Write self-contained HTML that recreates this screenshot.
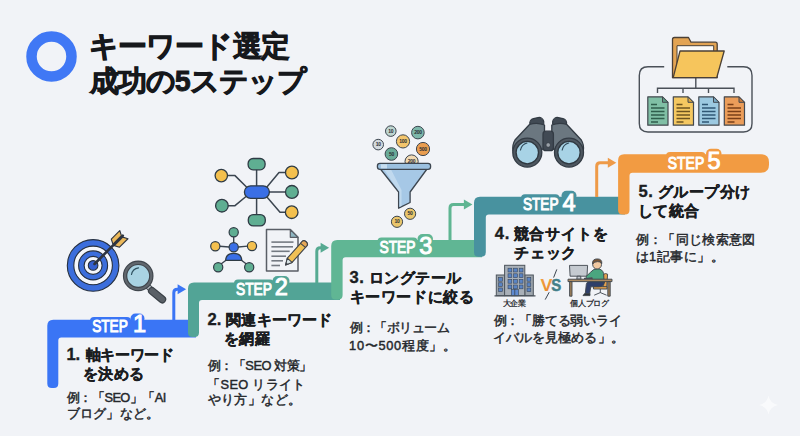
<!DOCTYPE html>
<html lang="ja">
<head>
<meta charset="utf-8">
<style>
html,body{margin:0;padding:0;}
body{width:800px;height:436px;overflow:hidden;background:#f1f3f7;font-family:"Liberation Sans",sans-serif;position:relative;}
svg.g{position:absolute;left:0;top:0;}
.t{position:absolute;white-space:nowrap;color:#1b1d21;}
.title{font-size:28.6px;letter-spacing:-0.7px;font-weight:bold;color:#16181c;-webkit-text-stroke:0.9px #16181c;}
.h{font-size:15.4px;font-weight:bold;-webkit-text-stroke:0.35px #1b1d21;}
.e{font-size:12.8px;line-height:17.5px;color:#24272b;-webkit-text-stroke:0.45px #24272b;}
.n{display:inline-block;width:19px;font-size:16.6px;line-height:10px;}
.lab{font-size:8px;font-weight:bold;color:#2b2e33;}
</style>
</head>
<body>
<svg class="g" width="800" height="436" viewBox="0 0 800 436">
  <!-- title ring -->
  <circle cx="51.5" cy="56.5" r="20" fill="none" stroke="#4078f5" stroke-width="10.5"/>

  <!-- STEP BARS -->
  <!-- step 1 -->
  <g fill="#3a75f5">
    <path d="M53.3,319.8 H196 V337.5 H61.3 Q58.3,337.5 58.3,340.5 V383.5 Q58.3,388 53.8,388 H51.8 Q47.3,388 47.3,383.5 V325.8 Q47.3,319.8 53.3,319.8 Z"/>
    <rect x="90" y="317" width="41" height="8" rx="4"/>
    <rect x="130.5" y="313.5" width="14" height="10" rx="5"/>
  </g>
  <!-- step 2 -->
  <g fill="#52a496">
    <path d="M194,282.6 H340 V300 H202 Q199,300 199,303 V332.5 Q199,337 194.5,337 H192.5 Q188,337 188,332.5 V288.6 Q188,282.6 194,282.6 Z"/>
    <rect x="234" y="279.5" width="40" height="8" rx="4"/>
    <rect x="272.5" y="276" width="17" height="10" rx="5"/>
  </g>
  <!-- step 3 -->
  <g fill="#60b694">
    <path d="M337.2,240 H482 V257.2 H345.6 Q342.6,257.2 342.6,260.2 V295 Q342.6,299.5 338.1,299.5 H335.7 Q331.2,299.5 331.2,295 V246 Q331.2,240 337.2,240 Z"/>
    <rect x="377.5" y="237.5" width="40" height="8" rx="4"/>
    <rect x="417.5" y="234" width="15.5" height="10" rx="5"/>
  </g>
  <!-- step 4 -->
  <g fill="#48929f">
    <path d="M480,196.8 H625 V214.5 H488.8 Q485.8,214.5 485.8,217.5 V252.2 Q485.8,256.7 481.3,256.7 H478.5 Q474,256.7 474,252.2 V202.8 Q474,196.8 480,196.8 Z"/>
    <rect x="521" y="194.2" width="38.5" height="8" rx="4"/>
    <rect x="561.5" y="190.8" width="15" height="10" rx="5"/>
  </g>
  <!-- step 5 -->
  <g fill="#f29b42">
    <path d="M624.1,154.2 H761 Q769,154.2 769,162.2 V164.7 Q769,172.7 761,172.7 H632.5 Q629.5,172.7 629.5,175.7 V210.1 Q629.5,214.6 625,214.6 H622.6 Q618.1,214.6 618.1,210.1 V160.2 Q618.1,154.2 624.1,154.2 Z"/>
    <rect x="666" y="152" width="39.5" height="8" rx="4"/>
    <rect x="706" y="148.7" width="15.5" height="10" rx="5"/>
  </g>

  <!-- arrows -->
  <path d="M173.8,320 V292.8 Q173.8,289.3 177.3,289.3 H179.1" fill="none" stroke="#3a75f5" stroke-width="3"/>
  <path d="M177.6,284.3 L186.1,289.3 L177.6,294.3 Z" fill="#3a75f5"/>
  <path d="M316.8,283 V251.2 Q316.8,247.7 320.3,247.7 H322.1" fill="none" stroke="#56aa92" stroke-width="3"/>
  <path d="M320.6,242.7 L329.1,247.7 L320.6,252.7 Z" fill="#56aa92"/>
  <path d="M450.0,240 V207.9 Q450.0,204.4 453.5,204.4 H465.4" fill="none" stroke="#5fb592" stroke-width="3"/>
  <path d="M463.9,199.4 L472.4,204.4 L463.9,209.4 Z" fill="#5fb592"/>
  <path d="M596.7,197 V166.2 Q596.7,162.7 600.2,162.7 H609.3" fill="none" stroke="#ee9a48" stroke-width="3"/>
  <path d="M607.8,157.7 L616.3,162.7 L607.8,167.7 Z" fill="#ee9a48"/>

  <!-- STEP labels -->
  <g fill="#ffffff" stroke="#ffffff" stroke-width="1" font-family="Liberation Sans" font-weight="normal">
    <text x="92.2" y="332.4" font-size="16.7" textLength="35.6" lengthAdjust="spacingAndGlyphs">STEP</text>
    <text x="133" y="332.4" font-size="23.5">1</text>
    <text x="236" y="295.2" font-size="16.7" textLength="36" lengthAdjust="spacingAndGlyphs">STEP</text>
    <text x="274.8" y="295.2" font-size="23.5">2</text>
    <text x="379.5" y="253.1" font-size="16.7" textLength="36" lengthAdjust="spacingAndGlyphs">STEP</text>
    <text x="419.3" y="254" font-size="23.5">3</text>
    <text x="523" y="210.2" font-size="16.7" textLength="35.5" lengthAdjust="spacingAndGlyphs">STEP</text>
    <text x="562.6" y="210.5" font-size="23.5">4</text>
    <text x="667.8" y="168.6" font-size="16.7" textLength="36.4" lengthAdjust="spacingAndGlyphs">STEP</text>
    <text x="707.5" y="168.6" font-size="23.5">5</text>
  </g>

  <!-- ICON 1: target -->
  <g stroke="#263040" stroke-width="1.1">
    <circle cx="93.1" cy="265.4" r="25.8" fill="#3c6edc"/>
    <circle cx="93.1" cy="265.4" r="19.3" fill="#f5f7fb"/>
    <circle cx="93.1" cy="265.4" r="14.5" fill="#3c6edc"/>
    <circle cx="93.1" cy="265.4" r="9" fill="#f5f7fb"/>
    <circle cx="93.1" cy="265.4" r="4.8" fill="#3560d0"/>
  </g>
  <g transform="translate(93.1,265.4) rotate(-45)">
    <line x1="2" y1="0" x2="42" y2="0" stroke="#2e3440" stroke-width="2.6" stroke-linecap="round"/>
    <path d="M29,-1 L31.5,-5.8 L43.5,-5.8 L41,-1 Z M29,1 L31.5,5.8 L43.5,5.8 L41,1 Z" fill="#ebb85a" stroke="#2e3440" stroke-width="1.1" stroke-linejoin="round"/>
  </g>
  <!-- magnifier -->
  <line x1="147" y1="285.5" x2="151.5" y2="290" stroke="#3f454c" stroke-width="6"/>
  <line x1="147" y1="285.5" x2="151.5" y2="290" stroke="#b4bac0" stroke-width="4"/>
  <line x1="152" y1="291" x2="162.2" y2="299.4" stroke="#3a4047" stroke-width="8" stroke-linecap="round"/>
  <line x1="152" y1="291" x2="162.2" y2="299.4" stroke="#5a6067" stroke-width="5.6" stroke-linecap="round"/>
  <circle cx="138.2" cy="275.9" r="13.1" fill="#a9d3e3" stroke="#3f454c" stroke-width="4.4"/>
  <circle cx="138.2" cy="275.9" r="13.1" fill="none" stroke="#60666d" stroke-width="2.2"/>
  <path d="M131.5,274.5 Q132.5,268.8 138.5,267.8" fill="none" stroke="#2f5160" stroke-width="1.2" stroke-linecap="round"/>

  <!-- ICON 2: network -->
  <g stroke="#3b4550" stroke-width="1.5" fill="none" stroke-linejoin="round">
    <path d="M256.6,169.5 V186"/>
    <path d="M227.5,175.6 H235 L247,187.5"/>
    <path d="M285.5,172.5 H279 L266.5,187.5"/>
    <path d="M269,192 H285.5"/>
    <path d="M228,205.7 H235 L246,196.5"/>
    <path d="M266.5,196.5 L280,212.2 H285.5"/>
    <path d="M256.6,198.5 V214.6"/>
  </g>
  <g stroke="#2f3b45" stroke-width="1.3">
    <rect x="248.1" y="158.5" width="17" height="11.3" rx="5" fill="#5fae92"/>
    <rect x="244.4" y="185.8" width="25" height="12.6" rx="6.3" fill="#3a6fe6"/>
    <rect x="248.3" y="214.6" width="17" height="11.3" rx="5" fill="#5fae92"/>
    <circle cx="221.3" cy="175.6" r="6.2" fill="#f4c04e"/>
    <circle cx="291.9" cy="172.5" r="6.4" fill="#f4c04e"/>
    <circle cx="291.9" cy="191.9" r="6.4" fill="#5fae92"/>
    <circle cx="221.9" cy="205.7" r="6.3" fill="#5fae92"/>
    <circle cx="291.7" cy="212.2" r="6.3" fill="#f4c04e"/>
  </g>
  <!-- person network -->
  <g stroke="#3b4550" stroke-width="1.4" fill="none">
    <path d="M233.7,236.5 V243"/>
    <path d="M219.5,246.3 L229.2,247"/>
    <path d="M247.8,246.1 L238.2,247"/>
    <path d="M227,259.5 L221,264"/>
    <path d="M240.4,259.5 L246.4,264"/>
  </g>
  <g stroke="#2f3b45" stroke-width="1.2">
    <circle cx="233.7" cy="232.3" r="4.6" fill="#5fae92"/>
    <circle cx="215.3" cy="246.3" r="4.6" fill="#f4c04e"/>
    <circle cx="252" cy="246.1" r="4.6" fill="#f4c04e"/>
    <circle cx="218.2" cy="267.3" r="4.6" fill="#5fae92"/>
    <circle cx="249.2" cy="267.3" r="4.6" fill="#5fae92"/>
    <circle cx="233.7" cy="247.3" r="4.6" fill="#3a6fe6"/>
    <path d="M225.6,260.4 Q226,253.3 233.7,253.3 Q241.4,253.3 241.8,260.4 Z" fill="#3a6fe6"/>
  </g>
  <!-- document + pencil -->
  <path d="M266.5,229.6 H290.3 L298,237.3 V271 H266.5 Z" fill="#f1f3f7" stroke="#595e66" stroke-width="1.5" stroke-linejoin="round"/>
  <path d="M290.3,229.6 V237.3 H298 Z" fill="#8fb6c2" stroke="#595e66" stroke-width="1.2" stroke-linejoin="round"/>
  <g stroke="#747a82" stroke-width="1.6">
    <line x1="271.4" y1="242.1" x2="293.5" y2="242.1"/>
    <line x1="271.4" y1="246.8" x2="293" y2="246.8"/>
    <line x1="271.4" y1="251.3" x2="289.7" y2="251.3"/>
    <line x1="271.4" y1="256.2" x2="286" y2="256.2"/>
    <line x1="271.4" y1="260.8" x2="283" y2="260.8"/>
    <line x1="271.4" y1="265.5" x2="280" y2="265.5"/>
  </g>
  <g transform="translate(285.6,265) rotate(-48.5)">
    <path d="M0,0 L6.2,-3.2 H28.5 Q31,-3.2 31,0 Q31,3.2 28.5,3.2 H6.2 Z" fill="#f0c055" stroke="#3e4249" stroke-width="1.1" stroke-linejoin="round"/>
    <path d="M26.2,-3.2 H28.5 Q31,-3.2 31,0 Q31,3.2 28.5,3.2 H26.2 Z" fill="#e7a857" stroke="#3e4249" stroke-width="1" stroke-linejoin="round"/>
    <path d="M0,0 L6.2,-3.2 V3.2 Z" fill="#d9e4e6" stroke="#3e4249" stroke-width="1" stroke-linejoin="round"/>
    <path d="M0,0 L2.2,-1.1 V1.1 Z" fill="#3e4249"/>
  </g>

  <!-- ICON 3: funnel + coins -->
  <g stroke="#3d4650" stroke-width="1" font-family="Liberation Sans" font-size="5" font-weight="bold" text-anchor="middle">
    <circle cx="390.8" cy="131.1" r="5.3" fill="#bfd6d0"/>
    <circle cx="417.9" cy="132.6" r="6.3" fill="#7db7aa"/>
    <circle cx="378.2" cy="144.6" r="5.3" fill="#d3dadf"/>
    <circle cx="403" cy="141.4" r="6.6" fill="#f3c56c"/>
    <circle cx="423" cy="149" r="6.6" fill="#e99d4f"/>
    <circle cx="391.4" cy="154" r="6.3" fill="#6aab98"/>
    <circle cx="411.6" cy="161.5" r="6.6" fill="#f1d9b1"/>
    <circle cx="410.1" cy="213.8" r="5.6" fill="#eac66c"/>
    <circle cx="397" cy="221.8" r="5.6" fill="#eac66c"/>
    <g fill="#2a2f35" stroke="none" letter-spacing="-0.3">
      <text x="390.8" y="132.7">10</text>
      <text x="417.9" y="134.2">200</text>
      <text x="378.2" y="146.2">10</text>
      <text x="403" y="143">100</text>
      <text x="423" y="150.6">500</text>
      <text x="391.4" y="155.8">50</text>
      <text x="411.6" y="163.3">200</text>
      <text x="410.1" y="215.4">50</text>
      <text x="397" y="223.4">10</text>
    </g>
  </g>
  <path d="M380.4,169 H427 L410.1,192 V202.5 L398.6,208.2 V192 Z" fill="#a6c8e6" stroke="#3d4650" stroke-width="1.3" stroke-linejoin="round"/>
  <path d="M384,169.5 L391,169.5 L401.5,190 V206 L399.5,207 V192 Z" fill="#c7ddf0" opacity="0.8"/>
  <rect x="377.4" y="163.3" width="53.2" height="6" rx="2.6" fill="#9cc1e0" stroke="#3d4650" stroke-width="1.3"/>
  <rect x="381" y="164.3" width="6" height="4" fill="#c8def0"/>

  <!-- ICON 4: binoculars -->
  <g stroke="#333b44" stroke-width="1.3" stroke-linejoin="round">
    <rect x="529.8" y="118" width="14" height="9.6" rx="4.6" fill="#414a54" transform="rotate(-12 536.8 122.8)"/>
    <rect x="552.6" y="118" width="14" height="9.6" rx="4.6" fill="#414a54" transform="rotate(12 559.6 122.8)"/>
    <path d="M529.5,124.5 Q537,122 544.5,125 L544.5,149 L513,151 Q512,145 515,140 Z" fill="#6b7780"/>
    <path d="M566.8,124.5 Q559.3,122 551.8,125 L551.8,149 L583.3,151 Q584.3,145 581.3,140 Z" fill="#6b7780"/>
    <rect x="543" y="131.2" width="10.4" height="19.5" rx="3" fill="#414a54"/>
    <circle cx="548.2" cy="145" r="2.3" fill="#9aa1a8" stroke="#333b44" stroke-width="0.8"/>
    <circle cx="527.3" cy="152.6" r="14.5" fill="#4e5760"/>
    <circle cx="569" cy="152.6" r="14.5" fill="#4e5760"/>
    <circle cx="527.3" cy="152.6" r="11.2" fill="#a8d3e6" stroke="#2f3840"/>
    <circle cx="569" cy="152.6" r="11.2" fill="#a8d3e6" stroke="#2f3840"/>
  </g>
  <path d="M520.5,150 Q521.5,144.5 527,143" fill="none" stroke="#2f4a5a" stroke-width="1.2" stroke-linecap="round"/>
  <path d="M562.2,150 Q563.2,144.5 568.7,143" fill="none" stroke="#2f4a5a" stroke-width="1.2" stroke-linecap="round"/>

  <!-- step 4 building -->
  <g stroke="#4d545c" stroke-width="1">
    <rect x="496.3" y="275" width="8.5" height="20.6" fill="#9ea6ae"/>
    <rect x="524.8" y="275" width="8.5" height="20.6" fill="#9ea6ae"/>
    <rect x="504.6" y="265.3" width="20.2" height="30.3" fill="#a9b0b8"/>
  </g>
  <g fill="#5a84c4" stroke="#39465a" stroke-width="0.6">
    <rect x="508" y="268.2" width="3.8" height="3.8"/><rect x="513.6" y="268.2" width="3.8" height="3.8"/><rect x="519.2" y="268.2" width="3.8" height="3.8"/><rect x="508" y="273.8" width="3.8" height="3.8"/><rect x="513.6" y="273.8" width="3.8" height="3.8"/><rect x="519.2" y="273.8" width="3.8" height="3.8"/><rect x="508" y="279.4" width="3.8" height="3.8"/><rect x="513.6" y="279.4" width="3.8" height="3.8"/><rect x="519.2" y="279.4" width="3.8" height="3.8"/><rect x="508" y="285" width="3.8" height="3.8"/><rect x="513.6" y="285" width="3.8" height="3.8"/><rect x="519.2" y="285" width="3.8" height="3.8"/><rect x="498.6" y="277.6" width="3.8" height="3.6"/><rect x="527" y="277.6" width="3.8" height="3.6"/><rect x="498.6" y="282.8" width="3.8" height="3.6"/><rect x="527" y="282.8" width="3.8" height="3.6"/><rect x="498.6" y="288" width="3.8" height="3.6"/><rect x="527" y="288" width="3.8" height="3.6"/>
    <rect x="511.3" y="289.6" width="3.6" height="6.2" fill="#5f8ad0"/><rect x="514.9" y="289.6" width="3.6" height="6.2" fill="#5f8ad0"/>
  </g>
  <line x1="494.5" y1="295.8" x2="535.5" y2="295.8" stroke="#4d545c" stroke-width="1.2"/>
  <!-- VS -->
  <path d="M556.8,269.4 L553.6,277.6 M549.2,292.2 L545.2,299.6" stroke="#3d4650" stroke-width="1" fill="none"/>
  <defs><linearGradient id="vg" x1="0" y1="0" x2="0" y2="1"><stop offset="0" stop-color="#f2a547"/><stop offset="1" stop-color="#e9862b"/></linearGradient></defs>
  <g font-family="Liberation Sans" font-weight="bold" font-size="17">
    <text x="540.5" y="290.6" fill="url(#vg)" textLength="12" lengthAdjust="spacingAndGlyphs">V</text>
    <text x="551.3" y="290.8" fill="#437f89" stroke="#437f89" stroke-width="0.5" textLength="10" lengthAdjust="spacingAndGlyphs">S</text>
  </g>
  <!-- person at desk -->
  <g stroke="#3e454d" stroke-width="0.9" stroke-linejoin="round">
    <path d="M603.2,274.5 Q605.5,272.8 607.6,274.2 L606.6,288.6 H603.2 Z" fill="#e3a04e"/>
    <path d="M593.5,286.6 H607 V289 H593.5 Z" fill="#e3a04e"/>
    <path d="M600.3,289 V292.8 M594.2,295.2 L600.3,292.6 L606.6,295.2" fill="none"/>
    <path d="M569.5,265.4 H587.6 L587,276.2 H570.1 Z" fill="#c5cad0"/>
    <path d="M577.2,276.2 L576.8,279.2 H581 L580.6,276.2 Z" fill="#c5cad0"/>
    <path d="M590.8,272 Q593.5,268.6 597.5,268.8 Q602.6,269 603.6,273.5 L604.2,283 H592.6 L592.2,277.6 L586.4,278.8 L586,276.6 Z" fill="#4aa67f"/>
    <circle cx="597.1" cy="264.6" r="4.4" fill="#f2c8a0"/>
    <path d="M592.6,264 Q592,258.9 597.3,258.9 Q602.2,258.9 601.8,263.6 Q600.6,261.4 597.6,261.6 Q594.5,261.6 592.6,264 Z" fill="#7a5535"/>
    <path d="M604.3,282 Q604.3,286.8 599,286.8 H590.8 L589.6,294.2 H585.2 L586.3,284.4 Q586.8,281.6 589.6,281.6 Z" fill="#2f3f6a"/>
    <path d="M583,295.6 H590 V293.6 H584.6 Z" fill="#2d3136"/>
    <rect x="584" y="277.8" width="8" height="1.6" fill="#4a5058" stroke="none"/>
    <rect x="568" y="279.2" width="44" height="2.4" fill="#ad8b62"/>
    <rect x="569.6" y="281.6" width="2.4" height="14.6" fill="#9c7d58"/>
    <rect x="607.8" y="281.6" width="2.4" height="14.6" fill="#9c7d58"/>
  </g>

  <!-- ICON 5: folder hierarchy -->
  <g fill="none" stroke="#4a5058" stroke-width="1.4">
    <path d="M664.2,66.8 H648 Q639.3,66.8 639.3,75.5 V123.5 Q639.3,132 648,132 H743.5 Q752,132 752,123.5 V75.5 Q752,66.8 743.5,66.8 H727.3"/>
    <path d="M695.8,77.7 V88.2 M657.5,93 V88.2 H734 V93 M683,88.2 V93 M708.5,88.2 V93"/>
  </g>
  <g stroke="#4b4036" stroke-width="1.3" stroke-linejoin="round">
    <path d="M672.5,77.7 V39.5 Q672.5,37.5 674.5,37.5 H688.5 L691,42.2 H715.3 Q717.2,42.2 717.2,44.2 V77.7 Z" fill="#e3a453"/>
    <rect x="677" y="45.7" width="36.7" height="25" fill="#fbfbf9" stroke-width="1"/>
    <path d="M680,51 H724.2 L716.7,77.7 H673.2 Z" fill="#f6c55c"/>
  </g>
  <g stroke="#43484f" stroke-width="1.2" stroke-linejoin="round">
    <path d="M647.8,96.8 H662.5 L668,102.3 V125.2 H647.8 Z" fill="#80bfa5"/>
    <path d="M673.3,96.8 H688 L693.5,102.3 V125.2 H673.3 Z" fill="#f5c861"/>
    <path d="M698.8,96.8 H713.5 L719,102.3 V125.2 H698.8 Z" fill="#9cc9e1"/>
    <path d="M724.3,96.8 H739 L744.5,102.3 V125.2 H724.3 Z" fill="#eb9d5a"/>
  </g>
  <g stroke="#43484f" stroke-width="1" stroke-linejoin="round">
    <path d="M662.5,96.8 V102.3 H668 Z" fill="#5e9c84"/>
    <path d="M688,96.8 V102.3 H693.5 Z" fill="#d8a644"/>
    <path d="M713.5,96.8 V102.3 H719 Z" fill="#7aa9c4"/>
    <path d="M739,96.8 V102.3 H744.5 Z" fill="#c97c3e"/>
  </g>
  <g stroke-width="1.3">
    <path d="M651,104.5 H657 M651,108 H664.5 M651,111.5 H664.5 M651,115 H664.5 M651,118.5 H664.5 M651,122 H658" stroke="#2f5e4c"/>
    <path d="M676.5,104.5 H682.5 M676.5,108 H690 M676.5,111.5 H690 M676.5,115 H690 M676.5,118.5 H690 M676.5,122 H683.5" stroke="#6e5420"/>
    <path d="M702,104.5 H708 M702,108 H715.5 M702,111.5 H715.5 M702,115 H715.5 M702,118.5 H715.5 M702,122 H709" stroke="#2f5775"/>
    <path d="M727.5,104.5 H733.5 M727.5,108 H741 M727.5,111.5 H741 M727.5,115 H741 M727.5,118.5 H741 M727.5,122 H734.5" stroke="#7a3f18"/>
  </g>

  <!-- sparkle -->
  <path d="M768.5,395.5 Q770,403.5 778,405 Q770,406.5 768.5,414.5 Q767,406.5 759,405 Q767,403.5 768.5,395.5 Z" fill="#ffffff" opacity="0.6"/>
</svg>

<!-- Title -->
<div class="t title" id="title1" style="left:88.5px;top:26.5px;letter-spacing:-0.78px;">キーワード選定</div>
<div class="t title" id="title2" style="left:89.5px;top:62.2px;letter-spacing:-0.93px;">成功の5ステップ</div>

<!-- Step 1 -->
<div class="t h" id="s1h1" style="left:66.6px;top:345.0px;letter-spacing:-0.28px;"><span class="n">1.</span>軸キーワード</div>
<div class="t h" id="s1h2" style="left:83.0px;top:364.0px;letter-spacing:0.34px;">を決める</div>
<div class="t e" id="s1e1" style="left:67.0px;top:388.9px;letter-spacing:-0.54px;">例：「SEO」「AI</div>
<div class="t e" id="s1e2" style="left:66.5px;top:405.0px;letter-spacing:0.25px;">ブログ」など。</div>

<!-- Step 2 -->
<div class="t h" id="s2h1" style="left:207.4px;top:309.5px;letter-spacing:0.06px;"><span class="n">2.</span>関連キーワード</div>
<div class="t h" id="s2h2" style="left:223.5px;top:329.4px;letter-spacing:0.50px;">を網羅</div>
<div class="t e" id="s2e1" style="left:207.5px;top:357.0px;letter-spacing:-0.41px;">例：「SEO 対策」</div>
<div class="t e" id="s2e2" style="left:207.2px;top:375.5px;letter-spacing:0.33px;">「SEO リライト</div>
<div class="t e" id="s2e3" style="left:207.5px;top:391.0px;letter-spacing:0.41px;">やり方」など。</div>

<!-- Step 3 -->
<div class="t h" id="s3h1" style="left:349.5px;top:267.9px;letter-spacing:0.50px;"><span class="n">3.</span>ロングテール</div>
<div class="t h" id="s3h2" style="left:349.5px;top:286.5px;letter-spacing:0.64px;">キーワードに絞る</div>
<div class="t e" id="s3e1" style="left:349.5px;top:318.9px;letter-spacing:-0.57px;">例：「ボリューム</div>
<div class="t e" id="s3e2" style="left:349.1px;top:336.5px;letter-spacing:0.71px;">10〜500程度」。</div>

<!-- Step 4 -->
<div class="t h" id="s4h1" style="left:494.7px;top:223.5px;letter-spacing:0.78px;"><span class="n">4.</span>競合サイトを</div>
<div class="t h" id="s4h2" style="left:514.0px;top:243.2px;letter-spacing:0.83px;">チェック</div>
<div class="t lab" id="lab1" style="left:503.0px;top:297.5px;letter-spacing:-0.75px;">大企業</div>
<div class="t lab" id="lab2" style="left:570.0px;top:297.5px;letter-spacing:-0.25px;">個人ブログ</div>
<div class="t e" id="s4e1" style="left:493.5px;top:312.0px;letter-spacing:-0.17px;">例：「勝てる弱いライ</div>
<div class="t e" id="s4e2" style="left:493.0px;top:328.5px;letter-spacing:0.07px;">イバルを見極める」。</div>

<!-- Step 5 -->
<div class="t h" id="s5h1" style="left:638.5px;top:182.0px;letter-spacing:0.50px;"><span class="n">5.</span>グループ分け</div>
<div class="t h" id="s5h2" style="left:638.0px;top:201.0px;letter-spacing:0.34px;">して統合</div>
<div class="t e" id="s5e1" style="left:635.5px;top:230.5px;letter-spacing:0.35px;">例：「同じ検索意図</div>
<div class="t e" id="s5e2" style="left:635.5px;top:248.0px;letter-spacing:0.49px;">は1記事に」。</div>
</body>
</html>
